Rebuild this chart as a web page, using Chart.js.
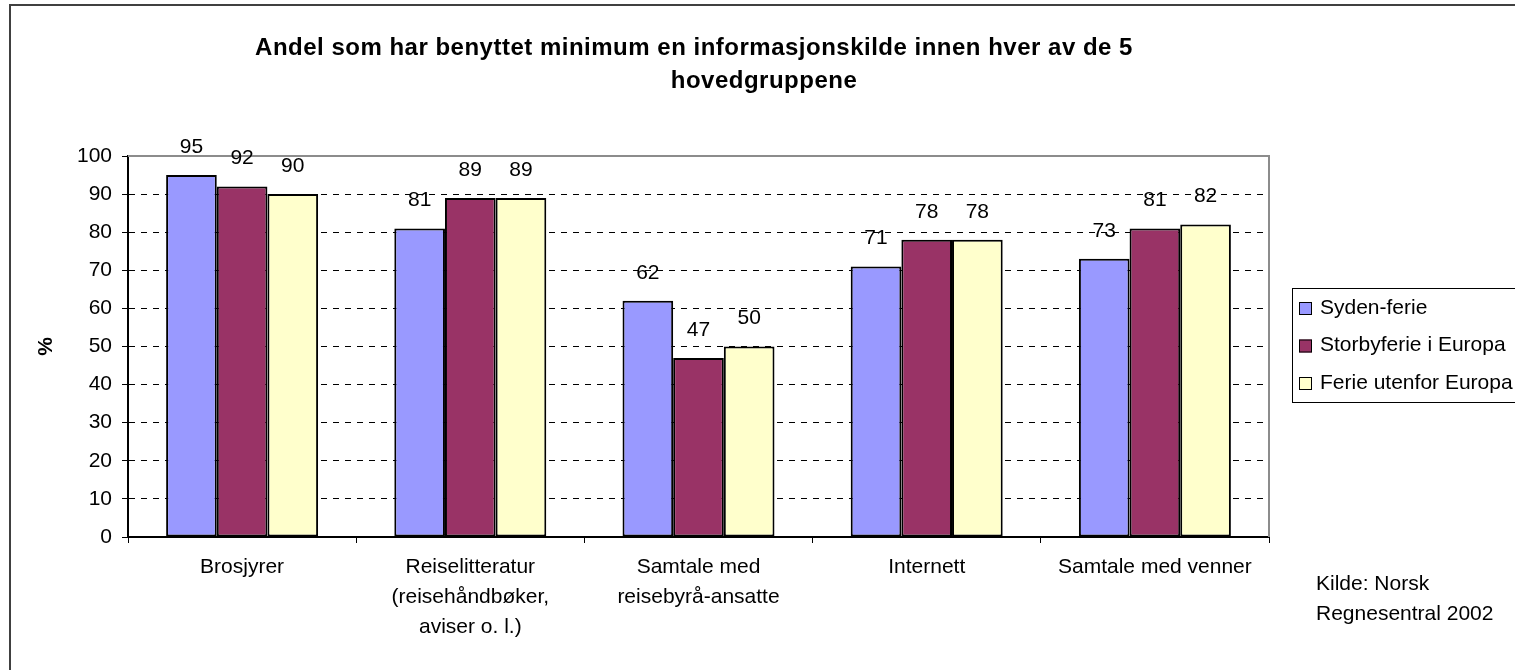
<!DOCTYPE html>
<html>
<head>
<meta charset="utf-8">
<script src="https://cdn.jsdelivr.net/npm/chart.js@4/dist/chart.umd.min.js"></script>
<style>
  html, body { margin: 0; padding: 0; background: #fff; overflow: hidden; }
  #wrap { position: absolute; left: 0; top: 0; width: 1545px; height: 680px; }
</style>
</head>
<body>
<div id="wrap"><canvas id="chart"></canvas></div>
<script>
// data
const categories = [
  "Brosjyrer",
  ["Reiselitteratur", "(reisehåndbøker,", "aviser o. l.)"],
  ["Samtale med", "reisebyrå-ansatte"],
  "Internett",
  "Samtale med venner"
];
const sydenFerie = [95, 81, 62, 71, 73];
const storbyferie = [92, 89, 47, 78, 81];
const ferieUtenfor = [90, 89, 50, 78, 82];
const seriesNames = ["Syden-ferie", "Storbyferie i Europa", "Ferie utenfor Europa"];
const titleLines = ["Andel som har benyttet minimum en informasjonskilde innen hver av de 5", "hovedgruppene"];
const sourceLines = ["Kilde: Norsk", "Regnesentral 2002"];

const FONT = "'Liberation Sans', Arial, sans-serif";

// frame, title, legend, source text
const decor = {
  id: 'decor',
  beforeDraw(chart) {
    const ctx = chart.ctx;
    ctx.save();
    ctx.strokeStyle = '#404040';
    ctx.lineWidth = 2;
    ctx.strokeRect(10, 5, 1600, 800);
    ctx.restore();
  },
  afterDraw(chart) {
    const ctx = chart.ctx;
    ctx.save();
    // title
    ctx.fillStyle = '#000';
    ctx.font = 'bold 24px ' + FONT;
    ctx.textAlign = 'center';
    ctx.textBaseline = 'middle';
    ctx.letterSpacing = '0.5px';
    ctx.fillText(titleLines[0], 694, 48);
    ctx.fillText(titleLines[1], 764, 81);
    ctx.letterSpacing = '0px';

    // legend
    ctx.strokeStyle = '#000';
    ctx.lineWidth = 1;
    ctx.strokeRect(1292.5, 288.5, 400, 114);
    ctx.font = '21px ' + FONT;
    ctx.textAlign = 'left';
    chart.data.datasets.forEach((ds, i) => {
      const y = 308 + i * 37.5;
      ctx.fillStyle = ds.backgroundColor;
      ctx.fillRect(1299, y - 6, 13, 13);
      ctx.strokeRect(1299.5, y - 5.5, 12, 12);
      ctx.fillStyle = '#000';
      ctx.fillText(ds.label, 1320, y);
    });

    // source
    sourceLines.forEach((t, i) => ctx.fillText(t, 1316, 584 + i * 30));
    ctx.restore();
  }
};

// grey top and right edge of the plot area
const plotBorder = {
  id: 'plotBorder',
  beforeDatasetsDraw(chart) {
    const ctx = chart.ctx;
    const a = chart.chartArea;
    ctx.save();
    ctx.strokeStyle = '#8c8c8c';
    ctx.lineWidth = 2;
    ctx.beginPath();
    ctx.moveTo(a.left, a.top);
    ctx.lineTo(a.right, a.top);
    ctx.lineTo(a.right, a.bottom);
    ctx.stroke();
    ctx.restore();
  }
};

const valueLabels = {
  id: 'valueLabels',
  afterDatasetsDraw(chart) {
    const ctx = chart.ctx;
    ctx.save();
    ctx.fillStyle = '#000';
    ctx.font = '21px ' + FONT;
    ctx.textAlign = 'center';
    ctx.textBaseline = 'middle';
    chart.data.datasets.forEach((ds, i) => {
      chart.getDatasetMeta(i).data.forEach((bar, j) => {
        ctx.fillText(String(ds.data[j]), bar.x, bar.y - 28);
      });
    });
    ctx.restore();
  }
};

new Chart(document.getElementById('chart'), {
  type: 'bar',
  data: {
    labels: categories,
    datasets: [
      { label: seriesNames[0], data: sydenFerie, backgroundColor: '#9999ff' },
      { label: seriesNames[1], data: storbyferie, backgroundColor: '#993366' },
      { label: seriesNames[2], data: ferieUtenfor, backgroundColor: '#ffffcc' }
    ]
  },
  options: {
    responsive: true,
    maintainAspectRatio: false,
    animation: false,
    datasets: {
      bar: {
        categoryPercentage: 0.666,
        barPercentage: 1,
        borderColor: '#000',
        borderWidth: 2,
        borderSkipped: false
      }
    },
    layout: { padding: { left: 30, top: 156, right: 276, bottom: 0 } },
    plugins: {
      legend: { display: false },
      title: { display: false },
      tooltip: { enabled: false }
    },
    scales: {
      x: {
        afterFit(scale) { scale.height = 143; },
        grid: {
          offset: true,
          drawOnChartArea: false,
          tickLength: 6,
          tickColor: '#000'
        },
        border: { color: '#000', width: 2 },
        ticks: {
          color: '#000',
          padding: 9,
          maxRotation: 0,
          font: { family: FONT, size: 21, lineHeight: 1.43 }
        }
      },
      y: {
        min: 0,
        max: 100,
        afterFit(scale) { scale.width = 98; },
        grid: {
          color: c => (c.tick && (c.tick.value === 0 || c.tick.value === 100)) ? 'rgba(0,0,0,0)' : '#000',
          tickColor: '#000',
          tickLength: 6,
          lineWidth: 1,
          tickBorderDash: []
        },
        border: { color: '#000', width: 2, dash: [6, 6] },
        ticks: {
          stepSize: 10,
          color: '#000',
          padding: 10,
          font: { family: FONT, size: 21 }
        },
        title: {
          display: true,
          text: '%',
          color: '#000',
          font: { family: FONT, size: 21, weight: 'bold' }
        }
      }
    }
  },
  plugins: [decor, plotBorder, valueLabels]
});
</script>
</body>
</html>
